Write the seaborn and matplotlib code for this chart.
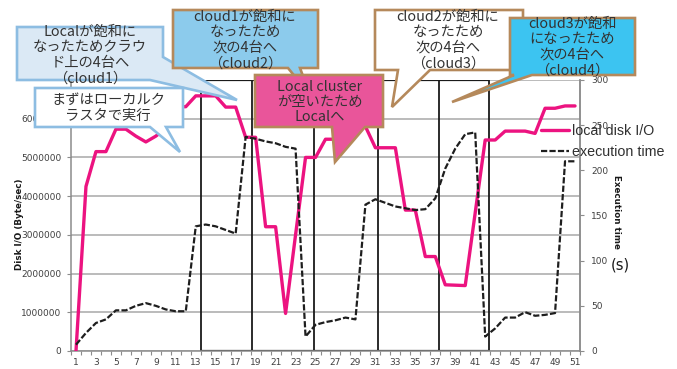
import numpy as np
import pandas as pd
import matplotlib
matplotlib.use("Agg")
import matplotlib.pyplot as plt
from matplotlib.patches import Polygon
from matplotlib.lines import Line2D
from matplotlib import font_manager
import seaborn as sns

# Measurement steps and the two monitored quantities
steps = list(range(1, 52))
disk_io = [
    0, 4250000, 5150000, 5150000, 5730000, 5730000, 5550000, 5400000, 5550000, 5750000,
    6310000, 6310000, 6590000, 6590000, 6590000, 6300000, 6300000, 5520000, 5520000, 3210000,
    3210000, 970000, 3000000, 5000000, 5000000, 5470000, 5470000, 5750000, 6000000, 5800000,
    5250000, 5250000, 5250000, 3640000, 3640000, 2440000, 2440000, 1710000, 1700000, 1690000,
    3570000, 5450000, 5450000, 5680000, 5680000, 5680000, 5620000, 6270000, 6270000, 6330000,
    6330000,
]
exec_time = [
    7, 20, 31, 35, 45, 45, 50, 53, 50, 46,
    44, 44, 138, 140, 138, 134, 130, 237, 235, 232,
    230, 226, 224, 16, 29, 32, 34, 37, 35, 162,
    168, 164, 160, 158, 156, 157, 169, 202, 224, 240,
    242, 16, 25, 37, 37, 43, 39, 40, 42, 210,
    210,
]
# Phase boundaries (cloud1, cloud2, local, cloud3, cloud4)
phase_edges = [13.5, 18.6, 24.8, 31.3, 37.4, 42.4]

left_ticks = [0, 1000000, 2000000, 3000000, 4000000, 5000000, 6000000, 7000000]
left_tick_labels = ["0", "1000000", "2000000", "3000000", "4000000", "5000000", "6000000", ""]
right_ticks = [0, 50, 100, 150, 200, 250, 300]
x_labels = list(range(1, 52, 2))

legend_labels = ["local disk I/O", "execution time"]

df = pd.DataFrame({"step": steps, "disk_io": disk_io, "exec_time": exec_time})

sns.set_theme(style="white")
plt.rcParams["font.family"] = ["Noto Sans CJK JP", "DejaVu Sans"]

installed = {f.name for f in font_manager.fontManager.ttflist}
NARROW = "Liberation Sans Narrow" if "Liberation Sans Narrow" in installed else "DejaVu Sans"
NARROW_SIZE = 7.4 if NARROW == "Liberation Sans Narrow" else 6.3

W, H = 677, 369
fig = plt.figure(figsize=(W / 100, H / 100), dpi=100)
ax = fig.add_axes([71 / W, 1 - 351 / H, (580 - 71) / W, (351 - 80) / H])
ax2 = ax.twinx()

PINK = "#ec1380"
GRID = "#a8a8a8"
SPINE = "#8c8c8c"
TXT = "#404040"

ax.set_xlim(0.5, 51.5)
ax.set_ylim(0, 7000000)
ax2.set_ylim(0, 300)

# horizontal grid from the left axis
for v in left_ticks:
    ax.axhline(v, color=GRID, lw=1.1, zorder=0)

# phase boxes
for e in phase_edges:
    ax.axvline(e, color="#1a1a1a", lw=1.3, zorder=1)
ax.plot([phase_edges[0], phase_edges[-1]], [0, 0], color="#1a1a1a", lw=1.6, zorder=1,
        solid_capstyle="butt")
ax.plot([phase_edges[0], phase_edges[-1]], [7000000, 7000000], color="#1a1a1a", lw=1.6,
        zorder=1, solid_capstyle="butt")

sns.lineplot(data=df, x="step", y="disk_io", ax=ax, color=PINK, linewidth=2.4, zorder=3)
sns.lineplot(data=df, x="step", y="exec_time", ax=ax2, color="#1e1e1e", linewidth=1.6, zorder=4)
ax2.lines[-1].set_dashes((2.8, 1.0))

ax.set_xlabel("")
ax.set_ylabel("")
ax2.set_ylabel("")

ax.set_xticks(x_labels)
ax.set_xticklabels([str(v) for v in x_labels], fontsize=6.5, color=TXT, family="DejaVu Sans")
ax.set_xticks(np.arange(0.5, 52, 1), minor=True)
ax.tick_params(axis="x", which="major", length=0, pad=5)
ax.tick_params(axis="x", which="minor", length=3, width=0.8, color=SPINE, direction="out",
               bottom=True)

ax.set_yticks(left_ticks)
ax.set_yticklabels(left_tick_labels, fontsize=6.5, color=TXT, family="DejaVu Sans")
ax.tick_params(axis="y", length=3, width=0.8, color=SPINE, direction="out", left=True, pad=4)

ax2.set_yticks(right_ticks)
ax2.set_yticklabels([str(v) for v in right_ticks], fontsize=6.5, color=TXT, family="DejaVu Sans")
ax2.tick_params(axis="y", length=3, width=0.8, color=SPINE, direction="out", right=True, pad=5)

for a in (ax, ax2):
    a.grid(False)
    a.spines["top"].set_visible(False)
    for s in ("left", "right", "bottom"):
        a.spines[s].set_color(SPINE)
        a.spines[s].set_linewidth(1.1)
ax2.spines["left"].set_visible(False)
ax2.spines["bottom"].set_visible(False)

# axis titles
fig.text(20 / W, 1 - 224 / H, "Disk I/O (Byte/sec)", rotation=90, ha="center", va="center",
         fontsize=NARROW_SIZE, fontweight="bold", color="#1a1a1a", family=[NARROW])
fig.text(616 / W, 1 - 212 / H, "Execution time", rotation=-90, ha="center", va="center",
         fontsize=NARROW_SIZE, fontweight="bold", color="#1a1a1a", family=[NARROW])
fig.text(620 / W, 1 - 265 / H, "(s)", ha="center", va="center", fontsize=10.5, color="#1a1a1a",
         family=["DejaVu Sans"])

# legend
handles = [Line2D([], [], color=PINK, lw=2.4),
           Line2D([], [], color="#1e1e1e", lw=1.6, dashes=(2.8, 1.0))]
leg = ax2.legend(handles, legend_labels, loc="upper left",
                 bbox_to_anchor=(541 / W, 1 - 124 / H), bbox_transform=fig.transFigure,
                 frameon=False, handlelength=1.95, handletextpad=0.2,
                 labelspacing=0.5, borderpad=0, borderaxespad=0,
                 prop={"family": "Liberation Sans", "size": 10.3})
for t in leg.get_texts():
    t.set_color("#303030")

# callouts
ov = fig.add_axes([0, 0, 1, 1], zorder=20)
ov.set_xlim(0, W)
ov.set_ylim(H, 0)
ov.axis("off")
ov.patch.set_alpha(0)

BROWN = "#b5895b"
LBLUE = "#8dbde2"


def bubble(pts, fc, ec, text, cx, cy, fs=10.3):
    ov.add_patch(Polygon(pts, closed=True, fc=fc, ec=ec, lw=1.9, joinstyle="miter"))
    ov.text(cx, cy, text, ha="center", va="center", fontsize=fs, color="#333333",
            linespacing=1.13, family=["Noto Sans CJK JP", "DejaVu Sans"])


bubble([(17, 27), (163, 27), (163, 57), (237, 100), (150, 80), (17, 80)],
       "#dbe9f5", LBLUE, "Localが飽和に\nなったためクラウ\nド上の4台へ\n（cloud1）", 90, 55)
bubble([(35, 88), (183, 88), (183, 127), (166, 127), (180, 152), (150, 127), (35, 127)],
       "white", LBLUE, "まずはローカルク\nラスタで実行", 108, 108)
bubble([(173, 10), (318, 10), (318, 68), (300, 68), (310, 95), (288, 68), (173, 68)],
       "#8ccbec", BROWN, "cloud1が飽和に\nなったため\n次の4台へ\n（cloud2）", 245, 40)
bubble([(255, 75), (383, 75), (383, 127), (365, 127), (335, 162), (332, 127), (255, 127)],
       "#e9559a", BROWN, "Local cluster\nが空いたため\nLocalへ", 320, 102)
bubble([(375, 10), (523, 10), (523, 70), (430, 70), (392, 107), (398, 70), (375, 70)],
       "white", BROWN, "cloud2が飽和に\nなったため\n次の4台へ\n（cloud3）", 448, 40)
bubble([(510, 18), (635, 18), (635, 75), (532, 75), (452, 102), (514, 75), (510, 75)],
       "#3cc4f1", BROWN, "cloud3が飽和\nになったため\n次の4台へ\n（cloud4）", 572, 47)

fig.savefig("out.png", dpi=100)
